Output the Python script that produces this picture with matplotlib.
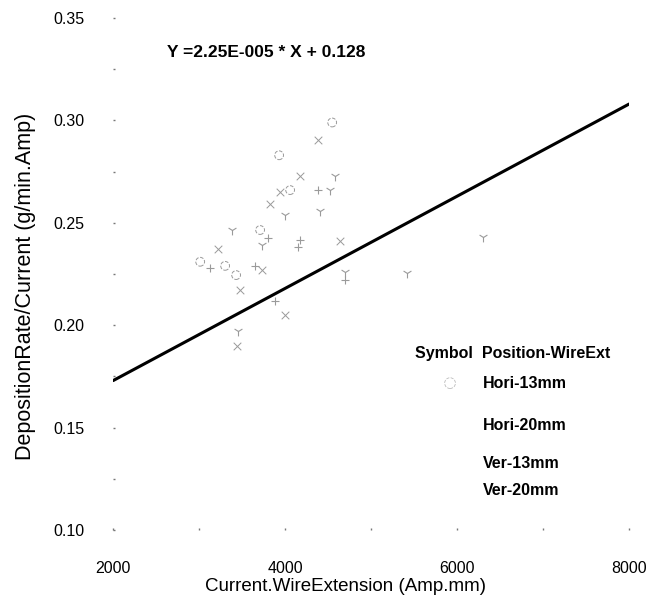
import matplotlib
matplotlib.use("Agg")
import matplotlib.pyplot as plt
import numpy as np
from matplotlib.ticker import MultipleLocator, FormatStrFormatter

plt.rcParams['font.family'] = ['Liberation Sans', 'DejaVu Sans']

hori13_x = [4547, 3930, 3012, 3302, 4058, 3709, 3430]
hori13_y = [0.299, 0.283, 0.231, 0.229, 0.266, 0.2465, 0.2245]
hori20_x = [4174, 4151, 4384, 3802, 3128, 3651, 4698, 3884]
hori20_y = [0.2416, 0.238, 0.266, 0.2426, 0.228, 0.229, 0.222, 0.212]
ver13_x = [4384, 4174, 3942, 3826, 3221, 3732, 3477, 3442, 4000, 4640]
ver13_y = [0.2904, 0.273, 0.265, 0.259, 0.237, 0.227, 0.2172, 0.190, 0.205, 0.241]
ver20_x = [4407, 4581, 4523, 4000, 3732, 3384, 3453, 4698, 5420, 6300]
ver20_y = [0.256, 0.273, 0.266, 0.254, 0.239, 0.2465, 0.197, 0.226, 0.2255, 0.243]

fit_slope = 2.25e-5
fit_intercept = 0.128
fit_range = [2000, 8000]

legend_labels = ["Hori-13mm", "Hori-20mm", "Ver-13mm", "Ver-20mm"]

fig = plt.figure(figsize=(6.58, 6.01), dpi=100)
ax = fig.add_axes([0.172, 0.118, 0.784, 0.852])

gray = "#9a9a9a"
ax.scatter(hori13_x, hori13_y, marker="o", s=40, facecolors="none", edgecolors=gray, linewidths=0.7, linestyle="--")
ax.scatter(hori20_x, hori20_y, marker="+", s=40, color=gray, linewidths=0.8)
ax.scatter(ver13_x, ver13_y, marker="x", s=30, color=gray, linewidths=0.7)
ax.scatter(ver20_x, ver20_y, marker="1", s=50, color=gray, linewidths=0.8)

fx = np.array(fit_range, dtype=float)
ax.plot(fx, fit_slope * fx + fit_intercept, color="black", lw=2.2, solid_capstyle="round")

ax.set_xlim(2000, 8000)
ax.set_ylim(0.10, 0.35)
ax.xaxis.set_major_locator(MultipleLocator(2000))
ax.xaxis.set_minor_locator(MultipleLocator(1000))
ax.yaxis.set_major_locator(MultipleLocator(0.05))
ax.yaxis.set_minor_locator(MultipleLocator(0.025))
ax.yaxis.set_major_formatter(FormatStrFormatter("%.2f"))
for s in ax.spines.values():
    s.set_visible(False)
ax.tick_params(which="both", direction="in", length=1.5, width=1, color="#777777")
ax.tick_params(axis="y", which="major", pad=21, labelsize=11.5)
ax.tick_params(axis="x", which="major", pad=22, labelsize=11.5)

ax.set_xlabel("Current.WireExtension (Amp.mm)", fontsize=13.5, labelpad=2)
ax.set_ylabel("DepositionRate/Current (g/min.Amp)", fontsize=15.5, labelpad=12)
ax.xaxis.label.set_x(0.45)
ax.yaxis.label.set_y(0.475)

ax.text(2630, 0.333, "Y =2.25E-005 * X + 0.128", fontsize=12.5, fontweight="bold", va="center")

# legend built by hand
ax.text(0.586, 0.345, "Symbol  Position-WireExt", transform=ax.transAxes, fontsize=11.5, fontweight="bold", va="center")
row_y = [0.287, 0.205, 0.131, 0.078]
for lab, yy in zip(legend_labels, row_y):
    ax.text(0.717, yy, lab, transform=ax.transAxes, fontsize=11.5, fontweight="bold", va="center")
ax.scatter([0.653], [row_y[0]], transform=ax.transAxes, marker="o", s=60, facecolors="none",
           edgecolors="#bbbbbb", linewidths=0.6, linestyle="--")

fig.savefig("out.png", dpi=100)
